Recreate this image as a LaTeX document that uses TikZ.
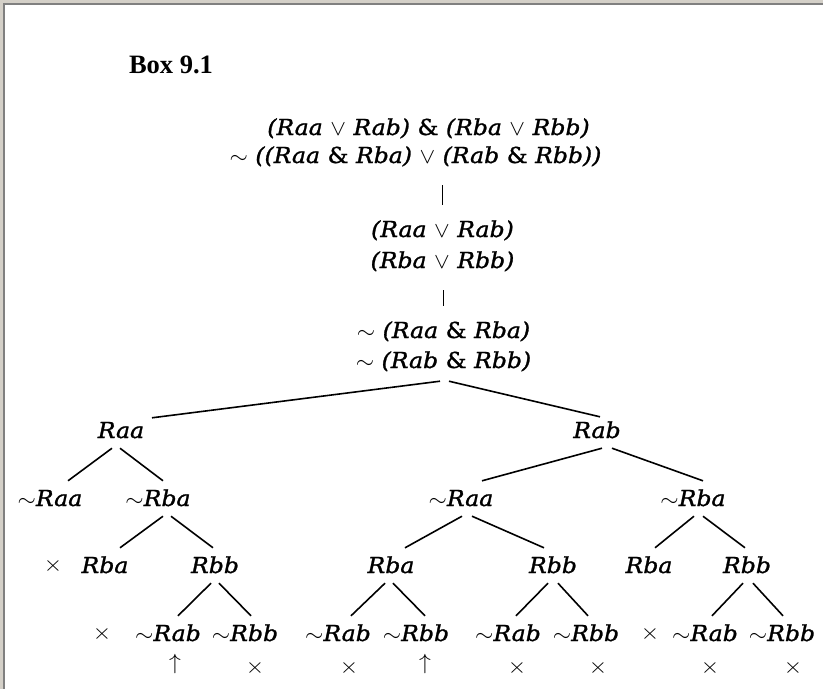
\documentclass[tikz,border=0pt]{standalone}
\usepackage{fix-cm}
\usepackage{fontspec}
\usepackage{graphicx}
\usepackage{tikz}
\newfontfamily\boxfont{Liberation Serif}
\newfontfamily\fmfont{DejaVu Serif}[ItalicFeatures={FakeBold=1.2}, UprightFeatures={FakeBold=1.2}]
\definecolor{frameout}{HTML}{D4D0C8}
\definecolor{framein}{HTML}{808080}
\newcommand{\fm}[1]{\scalebox{1.07}[1]{\fmfont\itshape #1}}
\newcommand{\tor}{ $\vee$ }
\newcommand{\tand}{ {\upshape\&} }
\newcommand{\tneg}{$\sim$}

\begin{document}
\begin{tikzpicture}[x=1pt, y=-1pt,
fml/.style={font=\fontsize{22}{26}\selectfont, inner xsep=0pt, inner ysep=17pt, text height=15pt, text depth=5pt, anchor=base},
treenode/.style={font=\fontsize{22}{26}\selectfont, inner xsep=2pt, inner ysep=10pt, text height=15pt, text depth=0pt, anchor=base},
closednode/.style={font=\fontsize{22}{26}\selectfont, inner sep=0pt},
branch/.style={line width=1.6pt}]
\useasboundingbox (0,0) rectangle (823,689);
\fill[frameout] (0,0) rectangle (823,3);
\fill[frameout] (0,0) rectangle (3,689);
\fill[framein] (3,3) rectangle (823,5);
\fill[framein] (3,3) rectangle (5,689);
\node[anchor=base, inner sep=0pt, font=\fontsize{26.5}{30}\selectfont\boxfont\bfseries] at (171,73) (title) {Box 9.1};
\node[fml] at (428.5,135) (1f) {\fm{(Raa\tor Rab)\tand(Rba\tor Rbb)}};
\node[fml] at (415.5,163) (2f) {\fm{\tneg\ ((Raa\tand Rba)\tor(Rab\tand Rbb))}};
\node[fml] at (442.5,237) (3f) {\fm{(Raa\tor Rab)}};
\draw[branch] (3f.north |- 2f.south) -- (3f.north);
\node[fml] at (442.5,268) (4f) {\fm{(Rba\tor Rbb)}};
\node[fml] at (443.5,338) (5f) {\fm{\tneg\ (Raa\tand Rba)}};
\draw[branch] (5f.north |- 4f.south) -- (5f.north);
\node[fml, inner ysep=8pt] at (443.5,368) (6f) {\fm{\tneg\ (Rab\tand Rbb)}};
\node[treenode] at (121,438) (0h1) {\fm{Raa}};
\draw[branch] ([xshift=-3.5pt]6f.south) -- ([xshift=31pt,yshift=-5pt]0h1.north);
\node[treenode] at (597,438) (1h1) {\fm{Rab}};
\draw[branch] ([xshift=5.5pt]6f.south) -- ([xshift=3pt,yshift=-4pt]1h1.north);
\node[treenode] at (50,506) (0h2) {\fm{\tneg Raa}};
\draw[branch] ([xshift=-9pt]0h1.south) -- ([xshift=18pt]0h2.north);
\node[treenode] at (158,506) (1h2) {\fm{\tneg Rba}};
\draw[branch] ([xshift=-1pt]0h1.south) -- ([xshift=5pt]1h2.north);
\node[treenode] at (461,506) (2h2) {\fm{\tneg Raa}};
\draw[branch] ([xshift=5pt]1h1.south) -- ([xshift=21pt]2h2.north);
\node[treenode] at (693,506) (3h2) {\fm{\tneg Rba}};
\draw[branch] ([xshift=15pt]1h1.south) -- ([xshift=10pt]3h2.north);
\node[closednode] at (53,566) (x0h3) {\fm{$\times$}};
\node[treenode] at (105,573) (0h3) {\fm{Rba}};
\draw[branch] ([xshift=5pt]1h2.south) -- ([xshift=15pt]0h3.north);
\node[treenode] at (215,573) (1h3) {\fm{Rbb}};
\draw[branch] ([xshift=13pt]1h2.south) -- ([xshift=-2pt]1h3.north);
\node[treenode] at (391,573) (2h3) {\fm{Rba}};
\draw[branch] ([xshift=1pt]2h2.south) -- ([xshift=14pt]2h3.north);
\node[treenode] at (553,573) (3h3) {\fm{Rbb}};
\draw[branch] ([xshift=11pt]2h2.south) -- ([xshift=-9pt]3h3.north);
\node[treenode] at (649,573) (4h3) {\fm{Rba}};
\draw[branch] ([xshift=1pt]3h2.south) -- ([xshift=6pt]4h3.north);
\node[treenode] at (747,573) (5h3) {\fm{Rbb}};
\draw[branch] ([xshift=10pt]3h2.south) -- ([xshift=-2pt]5h3.north);
\node[closednode] at (102,634) (x0h4) {\fm{$\times$}};
\node[treenode] at (168,641) (0h4) {\fm{\tneg Rab}};
\draw[branch] ([xshift=-4pt]1h3.south) -- ([xshift=10pt]0h4.north);
\node[treenode] at (245,641) (1h4) {\fm{\tneg Rbb}};
\draw[branch] ([xshift=4pt]1h3.south) -- ([xshift=6pt]1h4.north);
\node[treenode] at (338,641) (2h4) {\fm{\tneg Rab}};
\draw[branch] ([xshift=-6pt]2h3.south) -- ([xshift=13pt]2h4.north);
\node[treenode] at (416,641) (3h4) {\fm{\tneg Rbb}};
\draw[branch] ([xshift=2pt]2h3.south) -- ([xshift=9pt]3h4.north);
\node[treenode] at (508,641) (4h4) {\fm{\tneg Rab}};
\draw[branch] ([xshift=-5pt]3h3.south) -- ([xshift=8pt]4h4.north);
\node[treenode] at (586,641) (5h4) {\fm{\tneg Rbb}};
\draw[branch] ([xshift=5pt]3h3.south) -- ([xshift=2pt]5h4.north);
\node[closednode] at (650,634) (x1h4) {\fm{$\times$}};
\node[treenode] at (705,641) (6h4) {\fm{\tneg Rab}};
\draw[branch] ([xshift=-4pt]5h3.south) -- ([xshift=7pt]6h4.north);
\node[treenode] at (782,641) (7h4) {\fm{\tneg Rbb}};
\draw[branch] ([xshift=6pt]5h3.south) -- ([xshift=1pt]7h4.north);
\node[closednode] at (175,664) (0h5) {\fm{$\uparrow$}};
\node[closednode] at (255,668) (1h5) {\fm{$\times$}};
\node[closednode] at (349,668) (2h5) {\fm{$\times$}};
\node[closednode] at (425,664) (3h5) {\fm{$\uparrow$}};
\node[closednode] at (517,668) (4h5) {\fm{$\times$}};
\node[closednode] at (598,668) (5h5) {\fm{$\times$}};
\node[closednode] at (710,668) (6h5) {\fm{$\times$}};
\node[closednode] at (793,668) (7h5) {\fm{$\times$}};
\end{tikzpicture}
\end{document}
